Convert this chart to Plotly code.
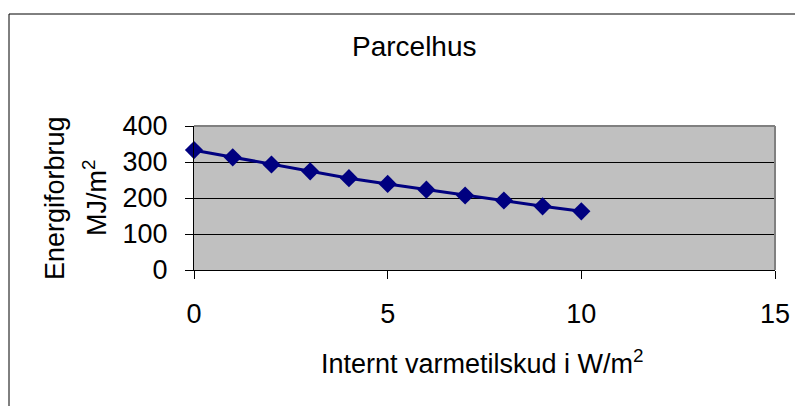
import plotly.graph_objects as go

# Data
x_vals = [0, 1, 2, 3, 4, 5, 6, 7, 8, 9, 10]
energi = [333, 313, 293, 274, 255, 239, 223, 207, 193, 177, 163]
x_ticks = [0, 5, 10, 15]
y_ticks = [0, 100, 200, 300, 400]

OFF = 8  # page body margin
W, H = 803 - OFF, 406 - OFF
L, R, T, B = 194 - OFF, 775 - OFF, 126 - OFF, 270 - OFF
pw, ph = R - L, B - T

def px(xp):
    return (xp - OFF - L) / pw

def py(yp):
    return (B - (yp - OFF)) / ph

FONT = "Liberation Sans, Arial, sans-serif"

fig = go.Figure()
fig.add_trace(go.Scatter(
    x=x_vals, y=energi, mode="lines+markers",
    line=dict(color="#000080", width=3),
    marker=dict(symbol="diamond", size=14, color="#000080"),
    cliponaxis=False, showlegend=False,
))

fig.update_layout(
    width=W, height=H,
    margin=dict(l=L, r=W - R, t=T, b=H - B, pad=0),
    paper_bgcolor="white",
    plot_bgcolor="#C0C0C0",
    font=dict(family=FONT, size=27, color="black"),
    xaxis=dict(
        range=[0, 15], tickvals=x_ticks, ticktext=[str(v) for v in x_ticks],
        showgrid=False, zeroline=False,
        showline=True, linecolor="black", linewidth=1,
        ticks="outside", ticklen=8, tickcolor="black", tickwidth=1,
        ticklabelstandoff=12,
        tickfont=dict(family=FONT, size=27),
    ),
    yaxis=dict(
        range=[0, 400], tickvals=y_ticks, ticktext=[str(v) for v in y_ticks],
        showgrid=True, gridcolor="black", gridwidth=1, zeroline=False,
        showline=True, linecolor="black", linewidth=1,
        ticks="outside", ticklen=8, tickcolor="black", tickwidth=1,
        ticklabelstandoff=12,
        tickfont=dict(family=FONT, size=27),
    ),
    shapes=[
        dict(type="line", xref="paper", yref="paper", x0=0, x1=1, y0=1, y1=1,
             line=dict(color="#808080", width=2)),
        dict(type="line", xref="paper", yref="paper", x0=1, x1=1, y0=0, y1=1,
             line=dict(color="#808080", width=2)),
        dict(type="rect", xref="paper", yref="paper",
             x0=px(9), x1=px(830), y0=py(430), y1=py(14),
             line=dict(color="black", width=1), layer="below"),
    ],
    annotations=[
        dict(text="Parcelhus", xref="paper", yref="paper",
             x=px(414), y=py(46), xanchor="center", yanchor="middle",
             showarrow=False, font=dict(family=FONT, size=28)),
        dict(text="Internt varmetilskud i W/m<sup>2</sup>", xref="paper", yref="paper",
             x=px(482), y=py(362), xanchor="center", yanchor="middle",
             showarrow=False, font=dict(family=FONT, size=27)),
        dict(text="Energiforbrug", xref="paper", yref="paper",
             x=px(55), y=py(198), xanchor="center", yanchor="middle",
             textangle=-90, showarrow=False, font=dict(family=FONT, size=27)),
        dict(text="MJ/m<sup>2</sup>", xref="paper", yref="paper",
             x=px(95), y=py(198), xanchor="center", yanchor="middle",
             textangle=-90, showarrow=False, font=dict(family=FONT, size=27)),
    ],
)

fig.write_html("out.html")
